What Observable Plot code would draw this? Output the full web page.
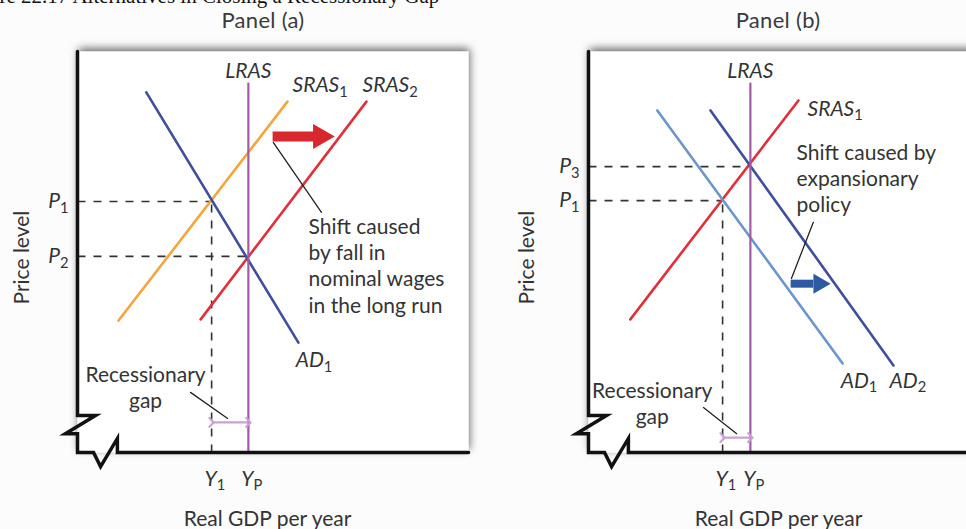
<!DOCTYPE html>
<html>
<head>
<meta charset="utf-8">
<script src="https://cdn.jsdelivr.net/npm/d3@7"></script>
<script src="https://cdn.jsdelivr.net/npm/@observablehq/plot@0.6"></script>
<style>
  html, body { margin: 0; padding: 0; background: #fcfcfc; }
  #root { position: relative; width: 966px; height: 529px; overflow: hidden; background: #fcfcfc; font-family: Lato, sans-serif; color: #3a3a3a; }
  .caption { position: absolute; left: -39px; top: -13px; font-family: "Liberation Serif", serif; font-size: 21px; line-height: 19px; color: #111; white-space: nowrap; }
  .ptitle { position: absolute; top: 10px; width: 200px; text-align: center; font-size: 22px; line-height: 20px; letter-spacing: 0.3px; color: #3a3a3a; }
  .panel { position: absolute; top: 40px; width: 483px; height: 489px; }
  .panel svg { max-width: none !important; }
</style>
</head>
<body>
<div id="root">
  <div class="caption">Figure 22.17 Alternatives in Closing a Recessionary Gap</div>
  <div class="ptitle" style="left:163px">Panel (a)</div>
  <div class="ptitle" style="left:678px">Panel (b)</div>
  <div class="panel" id="pa" style="left:0px"></div>
  <div class="panel" id="pb" style="left:511px"></div>
</div>
<script>
// ---------- shared scale domains (economic units) ----------
const X_DOMAIN = [0, 100];
const Y_DOMAIN = [0, 100];

// broken-axis outline (left axis + zigzag + horizontal axis), in data units
const axisOutline = [[0,100],[0,9.2],[4.6,9.2],[-3.1,4.7],[0,4.7],[0,0],[4.1,0],[5.9,-3.5],[10.2,3.5],[10.2,0],[100,0]];

// ---------- Panel (a) ----------
const lrasA  = [[43.7, 0], [43.7, 92.0]];
const ad1A   = [[17.6, 89.8], [56.5, 27.4]];
const sras1A = [[10.5, 32.9], [53.7, 87.5]];
const sras2A = [[31.5, 33.2], [73.9, 87.5]];
const priceTicksA  = [{label: "P_1", price: 62.6, output: 34.3}, {label: "P_2", price: 48.9, output: 43.7}];
const outputTicksA = [{label: "Y_1", output: 34.3, price: 62.6, dashed: true}, {label: "Y_P", output: 43.7, price: 48.9, dashed: false}];
const shiftArrowA  = {from: 49.9, to: 60.6, head: 62.1, price: 78.8};
const shiftPointerA = [[50.1, 77.3], [62.4, 59.9]];
const gapArrowA    = {from: 34.3, to: 43.7, price: 7.5};
const gapPointerA  = [[28.9, 15.0], [38.4, 8.5]];
const curveLabelsA = [
  {text: "LRAS",   x: 43.7, y: 93.3, anchor: "middle"},
  {text: "SRAS_1", x: 55.0, y: 89.8, anchor: "start"},
  {text: "SRAS_2", x: 72.9, y: 89.8, anchor: "start"},
  {text: "AD_1",   x: 55.8, y: 21.2, anchor: "start"}
];
const notesA = [
  {text: "Shift caused\nby fall in\nnominal wages\nin the long run", x: 59.1, y: 34.9, anchor: "start"},
  {text: "Recessionary\ngap", x: 17.4, y: 11.2, anchor: "middle"}
];

// ---------- Panel (b) ----------
const lrasB  = [[41.4, 0], [41.4, 92.0]];
const sras1B = [[10.7, 33.2], [53.7, 87.8]];
const ad1B   = [[17.6, 85.3], [65.0, 22.2]];
const ad2B   = [[31.2, 85.3], [78.0, 21.7]];
const priceTicksB  = [{label: "P_3", price: 71.3, output: 41.4}, {label: "P_1", price: 62.8, output: 34.3}];
const outputTicksB = [{label: "Y_1", output: 34.3, price: 62.8, dashed: true}, {label: "Y_P", output: 41.4, price: 71.3, dashed: false}];
const shiftArrowB  = {from: 51.7, to: 57.5, head: 59.0, price: 42.1};
const shiftPointerB = [[57.5, 57.4], [51.9, 43.4]];
const gapArrowB    = {from: 34.3, to: 41.4, price: 3.7};
const gapPointerB  = [[29.4, 11.2], [37.9, 4.7]];
const curveLabelsB = [
  {text: "LRAS",   x: 41.4, y: 93.3, anchor: "middle"},
  {text: "SRAS_1", x: 56.0, y: 84.0, anchor: "start"},
  {text: "AD_1",   x: 64.5, y: 16.2, anchor: "start"},
  {text: "AD_2",   x: 77.0, y: 16.2, anchor: "start"}
];
const notesB = [
  {text: "Shift caused by\nexpansionary\npolicy", x: 53.2, y: 59.9, anchor: "start"},
  {text: "Recessionary\ngap", x: 16.3, y: 7.2, anchor: "middle"}
];

const AXIS_TITLE_X = "Real GDP per year";
const AXIS_TITLE_Y = "Price level";

const COLORS = {
  lras: "#a25aa8", sras1: "#f4a53c", red: "#e0303a", adDark: "#3f4f9e",
  adLight: "#6b96cb", redArrow: "#d8282e", blueArrow: "#2d5aa3", gap: "#c9a2d2", ink: "#333333"
};

function subscripts(svg) {
  d3.select(svg).selectAll("text").each(function () {
    const t = this.textContent;
    if (!t || !t.includes("_") || this.querySelector("tspan")) return;
    const [main, s] = t.split("_");
    const el = d3.select(this);
    el.text(null);
    el.append("tspan").text(main);
    el.append("tspan").attr("font-size", "0.7em").attr("font-style", "normal").attr("dy", "0.3em").text(s);
  });
}

function addShadow(svg, id) {
  const s = d3.select(svg);
  const f = s.insert("defs", ":first-child").append("filter").attr("id", id)
    .attr("x", "-10%").attr("y", "-10%").attr("width", "120%").attr("height", "120%");
  f.append("feDropShadow").attr("dx", 1).attr("dy", -3).attr("stdDeviation", 4)
    .attr("flood-color", "#000").attr("flood-opacity", 0.6);
  const fr = s.select('[aria-label="frame"]');
  const target = fr.node() && fr.node().tagName.toLowerCase() === "g" ? fr.select("rect") : fr;
  target.attr("filter", `url(#${id})`);
}

function panel(o) {
  const seg = (pts, stroke, w) => Plot.line(pts, {x: d => d[0], y: d => d[1], stroke, strokeWidth: w});
  const svg = Plot.plot({
    width: 483, height: 489,
    marginLeft: 77, marginRight: 15, marginTop: 11, marginBottom: 77,
    x: {domain: X_DOMAIN, axis: null},
    y: {domain: Y_DOMAIN, axis: null},
    style: {fontFamily: "Lato, sans-serif", fontSize: "21px", color: "#3a3a3a", background: "transparent", overflow: "visible", maxWidth: "none"},
    marks: [
      Plot.frame({fill: "#ffffff", stroke: "none"}),
      // dashed guides
      Plot.link(o.priceTicks, {x1: 0, x2: "output", y1: "price", y2: "price", stroke: COLORS.ink, strokeWidth: 1.6, strokeDasharray: "8,8"}),
      Plot.link(o.outputTicks.filter(d => d.dashed), {x1: "output", x2: "output", y1: 0, y2: "price", stroke: COLORS.ink, strokeWidth: 1.6, strokeDasharray: "8,8"}),
      // curves
      ...o.curves.map(c => seg(c.pts, c.color, c.w)),
      // shift arrow
      Plot.link([o.shift], {x1: "from", x2: "to", y1: "price", y2: "price", stroke: o.shiftColor, strokeWidth: o.shiftShaft}),
      Plot.dot([o.shift], {x: "head", y: "price", symbol: "triangle", rotate: 90, r: o.shiftHead, fill: o.shiftColor, stroke: "none"}),
      seg(o.shiftPointer, "#222", 1.3),
      // recessionary gap
      Plot.link([o.gap], {x1: "from", x2: "to", y1: "price", y2: "price", stroke: COLORS.gap, strokeWidth: 2.2, markerStart: "arrow", markerEnd: "arrow"}),
      seg(o.gapPointer, "#222", 1.3),
      // axis outline
      Plot.line(axisOutline, {x: d => d[0], y: d => d[1], stroke: "#111", strokeWidth: 3.5, strokeLinejoin: "miter", strokeMiterlimit: 10}),
      // labels
      Plot.text(o.curveLabels, {filter: d => d.anchor === "middle", x: "x", y: "y", text: "text", textAnchor: "middle", lineAnchor: "bottom", fontStyle: "italic", fill: "#333"}),
      Plot.text(o.curveLabels, {filter: d => d.anchor === "start", x: "x", y: "y", text: "text", textAnchor: "start", lineAnchor: "bottom", fontStyle: "italic", fill: "#333"}),
      Plot.text(o.notes, {filter: d => d.anchor === "start", x: "x", y: "y", text: "text", textAnchor: "start", lineAnchor: "bottom", lineHeight: 1.25, fill: "#333"}),
      Plot.text(o.notes, {filter: d => d.anchor === "middle", x: "x", y: "y", text: "text", textAnchor: "middle", lineAnchor: "bottom", lineHeight: 1.2, fill: "#333"}),
      Plot.text(o.priceTicks, {x: 0, y: "price", text: "label", textAnchor: "end", lineAnchor: "middle", dx: -9, fontStyle: "italic", fill: "#333"}),
      Plot.text(o.outputTicks, {x: "output", y: 0, text: "label", textAnchor: "start", lineAnchor: "bottom", dx: -7, dy: 33, fontStyle: "italic", fill: "#333"}),
      Plot.text([AXIS_TITLE_X], {x: 48.6, y: 0, text: d => d, textAnchor: "middle", lineAnchor: "bottom", dy: 73, fill: "#333"}),
      Plot.text([AXIS_TITLE_Y], {x: 0, y: 48.6, text: d => d, rotate: -90, textAnchor: "middle", lineAnchor: "middle", dx: o.yTitleDx, fill: "#333"})
    ]
  });
  subscripts(svg);
  addShadow(svg, o.id + "-shadow");
  return svg;
}

document.getElementById("pa").appendChild(panel({
  id: "pa",
  curves: [
    {pts: sras1A, color: COLORS.sras1, w: 2.6},
    {pts: sras2A, color: COLORS.red, w: 2.6},
    {pts: ad1A, color: COLORS.adDark, w: 2.6},
    {pts: lrasA, color: COLORS.lras, w: 2.2}
  ],
  priceTicks: priceTicksA, outputTicks: outputTicksA,
  shift: shiftArrowA, shiftColor: COLORS.redArrow, shiftShaft: 10, shiftHead: 9.3,
  shiftPointer: shiftPointerA, gap: gapArrowA, gapPointer: gapPointerA,
  curveLabels: curveLabelsA, notes: notesA, yTitleDx: -55
}));

document.getElementById("pb").appendChild(panel({
  id: "pb",
  curves: [
    {pts: sras1B, color: COLORS.red, w: 2.6},
    {pts: ad1B, color: COLORS.adLight, w: 2.6},
    {pts: ad2B, color: COLORS.adDark, w: 2.6},
    {pts: lrasB, color: COLORS.lras, w: 2.2}
  ],
  priceTicks: priceTicksB, outputTicks: outputTicksB,
  shift: shiftArrowB, shiftColor: COLORS.blueArrow, shiftShaft: 8, shiftHead: 7.4,
  shiftPointer: shiftPointerB, gap: gapArrowB, gapPointer: gapPointerB,
  curveLabels: curveLabelsB, notes: notesB, yTitleDx: -61
}));
</script>
</body>
</html>
